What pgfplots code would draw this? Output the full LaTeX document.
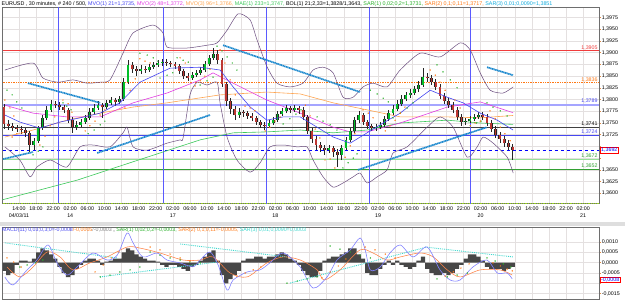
\documentclass[border=0pt]{standalone}
\usepackage{pgfplots}
\pgfplotsset{compat=1.18}
\usepackage{pgfplotstable}
\usepackage{fontspec}
\setmainfont{Liberation Sans}
\definecolor{framegray}{RGB}{110,110,110}
\definecolor{gridc}{RGB}{228,224,224}
\definecolor{sepblue}{RGB}{90,90,255}
\definecolor{mvoa}{RGB}{70,70,240}
\definecolor{mvob}{RGB}{225,60,225}
\definecolor{mvoc}{RGB}{255,165,80}
\definecolor{maec}{RGB}{60,200,90}
\definecolor{bolc}{RGB}{105,75,125}
\definecolor{sara}{RGB}{40,175,40}
\definecolor{sarb}{RGB}{255,120,20}
\definecolor{sarc}{RGB}{25,135,205}
\definecolor{cyanl}{RGB}{60,215,205}
\definecolor{upc}{RGB}{0,190,40}
\definecolor{dnc}{RGB}{190,55,50}
\definecolor{redl}{RGB}{240,60,60}
\definecolor{lav}{RGB}{165,165,255}
\definecolor{lgreen}{RGB}{150,225,150}
\definecolor{dgreen}{RGB}{50,160,50}
\definecolor{tickc}{RGB}{225,140,70}
\definecolor{macdl}{RGB}{130,130,255}
\definecolor{sigl}{RGB}{255,130,70}
\newcommand{\tf}{\fontsize{5.3}{6.6}\selectfont}
\newcommand{\ttf}{\fontsize{5.38}{6.6}\selectfont}

\pgfplotstableread{
t o h l c
-13.5 1.3784 1.3791 1.3737 1.3748
-12.5 1.3748 1.3756 1.3735 1.3744
-11.5 1.3744 1.3750 1.3733 1.3739
-10.5 1.3739 1.3746 1.3731 1.3737
-9.5 1.3737 1.3744 1.3727 1.3735
-8.5 1.3735 1.3739 1.3720 1.3729
-7.5 1.3729 1.3733 1.3688 1.3703
-6.5 1.3703 1.3718 1.3692 1.3712
-5.5 1.3712 1.3744 1.3707 1.3739
-4.5 1.3739 1.3767 1.3735 1.3761
-3.5 1.3761 1.3786 1.3756 1.3778
-2.5 1.3778 1.3799 1.3773 1.3791
-1.5 1.3791 1.3797 1.3782 1.3788
-0.5 1.3788 1.3795 1.3778 1.3784
0.5 1.3784 1.3788 1.3771 1.3778
1.5 1.3778 1.3782 1.3750 1.3756
2.5 1.3756 1.3763 1.3729 1.3741
3.5 1.3741 1.3754 1.3735 1.3746
4.5 1.3746 1.3759 1.3741 1.3752
5.5 1.3752 1.3767 1.3748 1.3761
6.5 1.3761 1.3782 1.3756 1.3773
7.5 1.3773 1.3791 1.3769 1.3782
8.5 1.3782 1.3797 1.3778 1.3788
9.5 1.3788 1.3793 1.3761 1.3784
10.5 1.3784 1.3799 1.3780 1.3793
11.5 1.3793 1.3805 1.3788 1.3799
12.5 1.3799 1.3803 1.3786 1.3795
13.5 1.3795 1.3808 1.3791 1.3801
14.5 1.3801 1.3846 1.3797 1.3837
15.5 1.3837 1.3884 1.3833 1.3874
16.5 1.3874 1.3880 1.3857 1.3865
17.5 1.3865 1.3872 1.3850 1.3861
18.5 1.3861 1.3874 1.3855 1.3865
19.5 1.3865 1.3872 1.3857 1.3863
20.5 1.3863 1.3876 1.3859 1.3869
21.5 1.3869 1.3880 1.3865 1.3874
22.5 1.3874 1.3884 1.3869 1.3878
23.5 1.3878 1.3887 1.3872 1.3880
24.5 1.3880 1.3887 1.3872 1.3878
25.5 1.3878 1.3882 1.3869 1.3876
26.5 1.3876 1.3880 1.3865 1.3872
27.5 1.3872 1.3876 1.3855 1.3861
28.5 1.3861 1.3865 1.3844 1.3850
29.5 1.3850 1.3857 1.3840 1.3846
30.5 1.3846 1.3859 1.3842 1.3852
31.5 1.3852 1.3863 1.3848 1.3857
32.5 1.3857 1.3869 1.3852 1.3863
33.5 1.3863 1.3882 1.3859 1.3876
34.5 1.3876 1.3895 1.3872 1.3889
35.5 1.3889 1.3910 1.3884 1.3897
36.5 1.3897 1.3906 1.3876 1.3884
37.5 1.3884 1.3889 1.3827 1.3833
38.5 1.3833 1.3837 1.3786 1.3797
39.5 1.3797 1.3803 1.3769 1.3780
40.5 1.3780 1.3786 1.3756 1.3767
41.5 1.3767 1.3782 1.3761 1.3773
42.5 1.3773 1.3778 1.3763 1.3771
43.5 1.3771 1.3776 1.3759 1.3765
44.5 1.3765 1.3771 1.3754 1.3761
45.5 1.3761 1.3765 1.3746 1.3752
46.5 1.3752 1.3756 1.3739 1.3746
47.5 1.3746 1.3752 1.3735 1.3744
48.5 1.3744 1.3756 1.3739 1.3750
49.5 1.3750 1.3763 1.3746 1.3756
50.5 1.3756 1.3776 1.3752 1.3769
51.5 1.3769 1.3782 1.3765 1.3776
52.5 1.3776 1.3788 1.3771 1.3782
53.5 1.3782 1.3786 1.3771 1.3778
54.5 1.3778 1.3788 1.3773 1.3782
55.5 1.3782 1.3786 1.3769 1.3778
56.5 1.3778 1.3784 1.3756 1.3763
57.5 1.3763 1.3767 1.3727 1.3733
58.5 1.3733 1.3739 1.3707 1.3716
59.5 1.3716 1.3722 1.3692 1.3703
60.5 1.3703 1.3709 1.3688 1.3697
61.5 1.3697 1.3703 1.3682 1.3692
62.5 1.3692 1.3703 1.3686 1.3697
63.5 1.3697 1.3701 1.3677 1.3688
64.5 1.3688 1.3694 1.3656 1.3682
65.5 1.3682 1.3703 1.3671 1.3697
66.5 1.3697 1.3720 1.3692 1.3714
67.5 1.3714 1.3739 1.3709 1.3733
68.5 1.3733 1.3763 1.3729 1.3756
69.5 1.3756 1.3776 1.3750 1.3767
70.5 1.3767 1.3771 1.3746 1.3752
71.5 1.3752 1.3756 1.3737 1.3744
72.5 1.3744 1.3748 1.3733 1.3739
73.5 1.3739 1.3748 1.3733 1.3741
74.5 1.3741 1.3752 1.3737 1.3746
75.5 1.3746 1.3765 1.3741 1.3759
76.5 1.3759 1.3778 1.3754 1.3771
77.5 1.3771 1.3788 1.3767 1.3780
78.5 1.3780 1.3799 1.3776 1.3791
79.5 1.3791 1.3810 1.3786 1.3801
80.5 1.3801 1.3816 1.3797 1.3810
81.5 1.3810 1.3823 1.3803 1.3814
82.5 1.3814 1.3829 1.3810 1.3823
83.5 1.3823 1.3840 1.3816 1.3831
84.5 1.3831 1.3867 1.3827 1.3848
85.5 1.3848 1.3857 1.3837 1.3846
86.5 1.3846 1.3852 1.3831 1.3837
87.5 1.3837 1.3844 1.3820 1.3827
88.5 1.3827 1.3833 1.3801 1.3808
89.5 1.3808 1.3814 1.3791 1.3797
90.5 1.3797 1.3803 1.3782 1.3788
91.5 1.3788 1.3795 1.3771 1.3778
92.5 1.3778 1.3784 1.3756 1.3763
93.5 1.3763 1.3769 1.3744 1.3752
94.5 1.3752 1.3761 1.3746 1.3754
95.5 1.3754 1.3765 1.3750 1.3759
96.5 1.3759 1.3769 1.3754 1.3763
97.5 1.3763 1.3773 1.3759 1.3767
98.5 1.3767 1.3773 1.3756 1.3763
99.5 1.3763 1.3769 1.3744 1.3750
100.5 1.3750 1.3756 1.3731 1.3737
101.5 1.3737 1.3744 1.3718 1.3724
102.5 1.3724 1.3731 1.3707 1.3716
103.5 1.3716 1.3722 1.3699 1.3707
104.5 1.3707 1.3714 1.3692 1.3699
105.5 1.3699 1.3705 1.3671 1.3692
}\candles

\pgfplotstableread{
t v
-13.5 -0.0004
-12.5 -0.0006
-11.5 -0.0005
-10.5 -0.0001
-9.5 0.0001
-8.5 0.0001
-7.5 0.00005
-6.5 0.0002
-5.5 0.0005
-4.5 0.0007
-3.5 0.0006
-2.5 0.0004
-1.5 0.0002
-0.5 -0.0002
0.5 -0.0005
1.5 -0.0007
2.5 -0.0006
3.5 -0.0003
4.5 -0.0001
5.5 0.0001
6.5 0.0002
7.5 0.0002
8.5 0.0001
9.5 -0.0001
10.5 0.00005
11.5 0.0001
12.5 0.0002
13.5 0.0002
14.5 0.0005
15.5 0.0007
16.5 0.0006
17.5 0.0004
18.5 0.0003
19.5 0.0002
20.5 0.0001
21.5 0.0001
22.5 0.00005
23.5 -0.0001
24.5 -0.0002
25.5 -0.0001
26.5 -0.0001
27.5 -0.0002
28.5 -0.0003
29.5 -0.0004
30.5 -0.0002
31.5 -0.0001
32.5 0.0001
33.5 0.0003
34.5 0.0005
35.5 0.0006
36.5 0.0001
37.5 -0.0006
38.5 -0.0010
39.5 -0.0008
40.5 -0.0006
41.5 -0.0004
42.5 0.0001
43.5 0.0002
44.5 0.0002
45.5 0.0003
46.5 0.0003
47.5 0.0002
48.5 0.0003
49.5 0.0003
50.5 0.0004
51.5 0.0005
52.5 0.0004
53.5 0.0002
54.5 0.0001
55.5 -0.0001
56.5 -0.0004
57.5 -0.0006
58.5 -0.0007
59.5 -0.0007
60.5 -0.0004
61.5 0.0001
62.5 0.0002
63.5 0.0003
64.5 0.0003
65.5 0.0004
66.5 0.0005
67.5 0.0007
68.5 0.0007
69.5 0.0004
70.5 0.0002
71.5 -0.0005
72.5 -0.0006
73.5 -0.0006
74.5 -0.0003
75.5 -0.0001
76.5 0.0001
77.5 -0.0001
78.5 0.0001
79.5 -0.0001
80.5 -0.0002
81.5 -0.0003
82.5 -0.0002
83.5 0.0001
84.5 0.0003
85.5 -0.0003
86.5 -0.0005
87.5 -0.0006
88.5 -0.0006
89.5 -0.0005
90.5 -0.0006
91.5 -0.0005
92.5 -0.0003
93.5 -0.0001
94.5 0.0002
95.5 0.0004
96.5 0.0004
97.5 0.0003
98.5 0.0001
99.5 -0.0002
100.5 -0.0003
101.5 -0.0003
102.5 -0.0003
103.5 -0.0004
104.5 -0.0003
105.5 -0.0002
}\hist

\begin{document}
\begin{tikzpicture}
\useasboundingbox (0,0) rectangle (625pt,303pt);
\fill[black!13] (0,77pt) rectangle (625pt,81pt);

% ================= MAIN PANEL =================
\begin{axis}[
  at={(2.5pt,99.7pt)}, anchor=south west, scale only axis,
  width=596.5pt, height=196pt,
  xmin=-13.85, xmax=125.7, ymin=1.35786, ymax=1.39969,
  scaled ticks=false,
  axis line style={draw=framegray, line width=0.6pt},
  clip mode=individual,
  grid=major, major grid style={draw=gridc, line width=0.45pt},
  xtick={-10,-6,...,122},
  xticklabels={{14:00\\04/03/11},18:00,22:00,{02:00\\14},06:00,10:00,14:00,18:00,22:00,{02:00\\17},06:00,10:00,14:00,18:00,22:00,{02:00\\18},06:00,10:00,14:00,18:00,22:00,{02:00\\19},06:00,10:00,14:00,18:00,22:00,{02:00\\20},06:00,10:00,14:00,18:00,22:00,{02:00\\21}},
  xtick pos=bottom, xtick style={draw=none},
  xticklabel style={align=center, font=\tf, inner sep=1pt, yshift=-0.5pt},
  ytick={1.3600,1.3625,1.3650,1.3675,1.3700,1.3725,1.3750,1.3775,1.3800,1.3825,1.3850,1.3875,1.3900,1.3925,1.3950,1.3975},
  yticklabels={{1,3600},{1,3625},{1,3650},{},{},{1,3725},{1,3750},{1,3775},{1,3800},{1,3825},{1,3850},{1,3875},{1,3900},{1,3925},{1,3950},{1,3975}},
  ytick pos=right, yticklabel pos=right,
  tick align=outside, major tick length=2pt,
  ytick style={draw=tickc, line width=0.5pt},
  yticklabel style={font=\tf, inner sep=0.6pt, anchor=west},
]
% horizontal levels
\addplot[redl, line width=0.6pt, forget plot] coordinates {(-13.85,1.3905) (125.7,1.3905)};
\addplot[sarb, line width=0.7pt, densely dotted, forget plot] coordinates {(-13.85,1.3836) (125.7,1.3836)};
\addplot[lav, line width=1.6pt, forget plot] coordinates {(-13.85,1.3789) (125.7,1.3789)};
\addplot[black!75, line width=0.6pt, forget plot] coordinates {(-13.85,1.3741) (125.7,1.3741)};
\addplot[mvoa, line width=0.6pt, forget plot] coordinates {(-13.85,1.3724) (125.7,1.3724)};
\addplot[blue, line width=0.6pt, dashed, forget plot] coordinates {(-13.85,1.3692) (125.7,1.3692)};
\addplot[lgreen, line width=1.6pt, forget plot] coordinates {(-13.85,1.3672) (125.7,1.3672)};
\addplot[dgreen, line width=0.6pt, forget plot] coordinates {(-13.85,1.3652) (125.7,1.3652)};
% day separators
\addplot[sepblue, line width=0.8pt, forget plot] coordinates {(-0.8,1.3578) (-0.8,1.3997)};
\addplot[sepblue, line width=0.8pt, forget plot] coordinates {(23.9,1.3578) (23.9,1.3997)};
\addplot[sepblue, line width=0.8pt, forget plot] coordinates {(47.8,1.3578) (47.8,1.3997)};
\addplot[sepblue, line width=0.8pt, forget plot] coordinates {(72.1,1.3578) (72.1,1.3997)};
\addplot[sepblue, line width=0.8pt, forget plot] coordinates {(95.5,1.3578) (95.5,1.3997)};

% Moving averages
\addplot[maec, line width=0.6pt, forget plot] coordinates {(-13.9,1.3586) (3.6,1.3628) (18.3,1.3672) (32.4,1.3714) (40.1,1.3729) (48.0,1.3731) (55.8,1.3735) (63.5,1.3729) (71.45,1.3735) (79.2,1.3750) (90.2,1.3756) (97.9,1.3750) (105.6,1.3747)};
\addplot[mvoc, line width=0.6pt, forget plot] coordinates {(-13.3,1.3720) (-6.7,1.3735) (1.2,1.3756) (9.0,1.3771) (16.7,1.3784) (24.65,1.3793) (37.05,1.3810) (48.0,1.3816) (55.8,1.3812) (63.5,1.3793) (71.45,1.3778) (79.2,1.3763) (90.2,1.3763) (97.9,1.3761) (105.6,1.3766)};
\addplot[mvob, line width=0.6pt, forget plot] coordinates {(-13.3,1.3788) (-6.7,1.3771) (1.2,1.3763) (9.0,1.3763) (16.7,1.3793) (24.65,1.3814) (32.4,1.3842) (35.4,1.3857) (40.1,1.3835) (48.0,1.3799) (55.8,1.3771) (63.5,1.3741) (67.5,1.3731) (71.45,1.3731) (79.2,1.3750) (90.2,1.3784) (97.9,1.3795) (105.6,1.3772)};

% candles: wicks
\addplot[draw=none, mark=none, forget plot,
  error bars/.cd, y dir=plus, y explicit, error mark=none,
  error bar style={draw=black!85, line width=0.5pt}]
  table[x=t, y=l, y error expr={\thisrow{h}-\thisrow{l}}] {\candles};
% up bodies
\addplot[draw=none, mark=none, forget plot, unbounded coords=discard, filter discard warning=false,
  y filter/.expression={\thisrow{c}>\thisrow{o} ? y : nan},
  error bars/.cd, y dir=plus, y explicit, error mark=none,
  error bar style={draw=black!85, line width=2.9pt}]
  table[x=t, y=o, y error expr={\thisrow{c}-\thisrow{o}}] {\candles};
\addplot[draw=none, mark=none, forget plot, unbounded coords=discard, filter discard warning=false,
  y filter/.expression={\thisrow{c}>\thisrow{o} ? y : nan},
  error bars/.cd, y dir=plus, y explicit, error mark=none,
  error bar style={draw=upc, line width=1.7pt}]
  table[x=t, y=o, y error expr={\thisrow{c}-\thisrow{o}}] {\candles};
% down bodies
\addplot[draw=none, mark=none, forget plot, unbounded coords=discard, filter discard warning=false,
  y filter/.expression={\thisrow{c}<\thisrow{o} ? y : nan},
  error bars/.cd, y dir=plus, y explicit, error mark=none,
  error bar style={draw=black!85, line width=2.9pt}]
  table[x=t, y=c, y error expr={\thisrow{o}-\thisrow{c}}] {\candles};
\addplot[draw=none, mark=none, forget plot, unbounded coords=discard, filter discard warning=false,
  y filter/.expression={\thisrow{c}<\thisrow{o} ? y : nan},
  error bars/.cd, y dir=plus, y explicit, error mark=none,
  error bar style={draw=dnc, line width=1.7pt}]
  table[x=t, y=c, y error expr={\thisrow{o}-\thisrow{c}}] {\candles};

% MA21 blue
\addplot[mvoa, line width=0.6pt, forget plot] coordinates {(-13.3,1.3767) (-9.8,1.3752) (-5.1,1.3739) (-0.4,1.3752) (4.3,1.3761) (9.0,1.3771) (13.6,1.3793) (18.3,1.3837) (25.35,1.3867) (32.4,1.3869) (37.05,1.3863) (40.1,1.3827) (44.1,1.3784) (48.0,1.3756) (51.8,1.3763) (55.8,1.3763) (59.75,1.3741) (63.5,1.3720) (67.5,1.3707) (71.45,1.3729) (75.2,1.3750) (79.2,1.3771) (82.2,1.3793) (86.2,1.3820) (90.2,1.3805) (93.9,1.3793) (97.9,1.3771) (101.9,1.3756) (105.6,1.3735)};

% Bollinger bands
\addplot[bolc, line width=0.5pt, smooth, tension=0.4, forget plot] coordinates {(-13.3,1.3863) (-6.7,1.3878) (-4.4,1.3846) (-0.87,1.3837) (2.64,1.3842) (5.92,1.3835) (8.96,1.3837) (11.3,1.3842) (14.35,1.3899) (16.69,1.3942) (21.37,1.3959) (23.71,1.3942) (24.65,1.3912) (29.33,1.3910) (34.0,1.3916) (36.35,1.3921) (38.69,1.3948) (41.27,1.3983) (44.07,1.3970) (45.71,1.3927) (48.04,1.3870) (50.38,1.3835) (53.43,1.3827) (56.47,1.3835) (58.81,1.3863) (61.15,1.3869) (63.49,1.3857) (65.83,1.3805) (68.17,1.3805) (70.51,1.3827) (72.85,1.3835) (76.13,1.3827) (79.17,1.3863) (83.85,1.3899) (88.54,1.3891) (93.22,1.3921) (95.56,1.3906) (97.9,1.3857) (100.24,1.3820) (103.28,1.3814) (105.63,1.3827)};
\addplot[bolc, line width=0.5pt, smooth, tension=0.4, forget plot] coordinates {(-13.3,1.3699) (-9.8,1.3671) (-7.4,1.3635) (-5.8,1.3656) (-2.7,1.3671) (1.2,1.3656) (4.3,1.3699) (7.3,1.3703) (11.3,1.3699) (14.35,1.3729) (15.3,1.3741) (16.7,1.3699) (20.0,1.3692) (24.65,1.3707) (27.7,1.3714) (28.4,1.3718) (30.0,1.3810) (31.7,1.3837) (34.0,1.3831) (36.35,1.3837) (37.05,1.3793) (38.69,1.3720) (41.0,1.3671) (44.07,1.3645) (46.41,1.3665) (48.74,1.3699) (51.79,1.3703) (55.07,1.3699) (57.4,1.3699) (58.81,1.3671) (61.15,1.3635) (63.49,1.3613) (65.83,1.3622) (68.17,1.3635) (69.81,1.3643) (71.45,1.3622) (73.79,1.3635) (76.13,1.3650) (77.53,1.3686) (80.81,1.3699) (85.49,1.3741) (88.54,1.3763) (91.58,1.3741) (94.86,1.3677) (97.2,1.3699) (98.6,1.3720) (100.94,1.3707) (104.22,1.3677) (105.63,1.3643)};

% SAR(1) green dots
\addplot[only marks, mark=*, mark size=0.45pt, sara, forget plot] coordinates {
(-12.8,1.3820) (-11.6,1.3810) (-10.5,1.3795) (-9.3,1.3782)
(-6.7,1.3682) (-5.5,1.3690) (-4.4,1.3699)
(0.3,1.3793) (1.2,1.3786) (2.2,1.3778)
(6.2,1.3727) (7.6,1.3735) (9.0,1.3746) (10.1,1.3754)
(18.3,1.3899) (20.0,1.3895) (21.4,1.3889) (22.5,1.3882)
(23.0,1.3846) (24.65,1.3852) (26.0,1.3857)
(27.0,1.3889) (28.4,1.3884) (29.6,1.3880)
(32.4,1.3831) (34.0,1.3840) (35.4,1.3848)
(36.35,1.3914) (37.5,1.3904) (38.7,1.3891) (39.9,1.3878) (41.0,1.3863)
(51.8,1.3748) (53.4,1.3759) (54.8,1.3769) (56.0,1.3778)
(59.75,1.3763) (61.15,1.3754) (62.8,1.3746) (64.4,1.3735)
(65.8,1.3654) (67.0,1.3665) (68.2,1.3675) (69.1,1.3684)
(72.2,1.3820) (73.8,1.3812) (75.2,1.3803) (76.4,1.3795)
(77.5,1.3761) (79.2,1.3771) (80.8,1.3782) (82.2,1.3793)
(87.8,1.3874) (89.2,1.3859) (90.9,1.3842) (92.5,1.3825)
(95.6,1.3744) (97.0,1.3750) (98.1,1.3754)
(99.5,1.3793) (100.9,1.3784) (102.6,1.3776) (104.2,1.3765)};
% SAR(2) orange dots
\addplot[only marks, mark=*, mark size=0.45pt, sarb, forget plot] coordinates {
(-13.3,1.3799) (-12.1,1.3782) (-11.2,1.3765)
(-11.6,1.3720) (-10.5,1.3727) (-9.3,1.3729)
(-5.1,1.3703) (-3.9,1.3722) (-2.7,1.3744) (-1.6,1.3763)
(0.3,1.3799) (1.5,1.3791) (2.4,1.3773)
(5.5,1.3733) (6.6,1.3744) (7.8,1.3754) (9.0,1.3767) (10.1,1.3778)
(14.8,1.3782) (16.0,1.3820) (17.2,1.3844)
(18.3,1.3887) (19.5,1.3882) (20.7,1.3878)
(27.7,1.3889) (28.9,1.3878)
(31.2,1.3829) (32.4,1.3840) (33.5,1.3850) (34.7,1.3865)
(37.05,1.3906) (38.2,1.3878) (39.4,1.3842) (40.6,1.3810)
(42.9,1.3786) (44.1,1.3782) (45.2,1.3776)
(47.6,1.3733) (48.7,1.3741) (49.9,1.3754) (51.1,1.3763)
(57.0,1.3788) (58.1,1.3765) (59.3,1.3737) (60.4,1.3718)
(61.6,1.3671) (62.8,1.3673) (63.9,1.3654)
(66.3,1.3677) (67.5,1.3701) (68.6,1.3727)
(70.5,1.3778) (71.7,1.3771) (72.85,1.3761)
(75.7,1.3733) (76.8,1.3744) (78.0,1.3756) (79.2,1.3771) (80.3,1.3784)
(86.2,1.3863) (87.4,1.3852) (88.5,1.3837) (89.7,1.3820)
(92.0,1.3799) (93.2,1.3782)
(95.6,1.3744) (96.7,1.3750) (97.9,1.3754)
(100.2,1.3776) (101.4,1.3759) (102.6,1.3741) (103.7,1.3727) (104.9,1.3712)};
% SAR(3) thick dotted blue
\addplot[sarc, line width=1.7pt, dash pattern=on 1.2pt off 0.5pt, forget plot] coordinates {(-13.7,1.3673) (-6.7,1.3688)};
\addplot[sarc, line width=1.7pt, dash pattern=on 1.2pt off 0.5pt, forget plot] coordinates {(-7.9,1.3835) (9.0,1.3793)};
\addplot[sarc, line width=1.7pt, dash pattern=on 1.2pt off 0.5pt, forget plot] coordinates {(8.3,1.3686) (34.7,1.3767)};
\addplot[sarc, line width=1.7pt, dash pattern=on 1.2pt off 0.5pt, forget plot] coordinates {(37.75,1.3916) (69.8,1.3816)};
\addplot[sarc, line width=1.7pt, dash pattern=on 1.2pt off 0.5pt, forget plot] coordinates {(69.3,1.3650) (99.5,1.3741)};
\addplot[sarc, line width=1.7pt, dash pattern=on 1.2pt off 0.5pt, forget plot] coordinates {(99.5,1.3869) (105.6,1.3852)};

% level labels
\node[anchor=south east, inner sep=0.4pt, text=redl, font=\tf] at (axis cs:125.5,1.3905) {1,3905};
\node[anchor=south east, inner sep=0.4pt, text=sarb, font=\tf] at (axis cs:125.5,1.3836) {1,3836};
\node[anchor=south east, inner sep=0.4pt, text=mvoa, font=\tf] at (axis cs:125.5,1.3790) {1,3789};
\node[anchor=south east, inner sep=0.4pt, text=black, font=\tf] at (axis cs:125.5,1.3741) {1,3741};
\node[anchor=south east, inner sep=0.4pt, text=mvoa, font=\tf] at (axis cs:125.5,1.3724) {1,3724};
\node[anchor=south east, inner sep=0.4pt, text=dgreen, font=\tf] at (axis cs:125.5,1.3673) {1,3672};
\node[anchor=south east, inner sep=0.4pt, text=dgreen, font=\tf] at (axis cs:125.5,1.3652) {1,3652};
\node[anchor=west, draw=red, fill=white, text=blue, font=\tf, inner sep=0.7pt, line width=0.5pt] at (axis cs:126.0,1.3692) {1,3692};
\end{axis}
\draw[yellow!60!green, densely dotted, line width=0.8pt] (2.5pt,99.4pt) -- (599pt,99.4pt);

% title
\node[anchor=base west, inner sep=0pt, font=\ttf] at (1.5pt,297.2pt) {EURUSD , 30 minutes, \# 240 / 500, \textcolor{mvoa}{MVO(1) 21=1,3735,} \textcolor{mvob}{MVO(2) 48=1,3772,} \textcolor{mvoc}{MVO(3) 96=1,3766,} \textcolor{maec}{MAE(1) 233=1,3747,} BOL(1) 21;2,33=1,3828/1,3643, \textcolor{sara}{SAR(1) 0,02;0,2=1,3731,} \textcolor{sarb}{SAR(2) 0,1;0,11=1,3717,} \textcolor{sarc!70!cyan}{SAR(3) 0,01;0,0090=1,3851}};

% ================= LOWER PANEL =================
\begin{axis}[
  at={(2.5pt,3.7pt)}, anchor=south west, scale only axis,
  width=596.5pt, height=72.3pt,
  xmin=-13.85, xmax=125.7, ymin=-0.001777, ymax=0.001733,
  scaled ticks=false,
  axis line style={draw=framegray, line width=0.6pt},
  clip mode=individual,
  grid=major, major grid style={draw=gridc, line width=0.45pt},
  xtick={-10,-6,...,122}, xticklabels={}, xtick style={draw=none},
  ytick={-0.0015,-0.001,-0.0005,0,0.0005,0.001},
  yticklabels={{-0,0015},{},{-0,0005},{0,0000},{0,0005},{0,0010}},
  ytick pos=right, yticklabel pos=right,
  tick align=outside, major tick length=2pt,
  ytick style={draw=tickc, line width=0.5pt},
  yticklabel style={font=\tf, inner sep=0.6pt, anchor=west},
]
\addplot[ybar, bar width=1, fill=black!72, draw=none, forget plot] table[x=t, y=v] {\hist};
% cyan SAR(3)
\addplot[cyanl, line width=0.9pt, densely dotted, forget plot] coordinates {(-13.3,0.00096) (13.0,0.00023)};
\addplot[cyanl, line width=0.9pt, densely dotted, forget plot] coordinates {(9.0,-0.00069) (36.35,0.00003)};
\addplot[cyanl, line width=0.9pt, densely dotted, forget plot] coordinates {(27.7,0.00091) (52.7,0.00028)};
\addplot[cyanl, line width=0.9pt, densely dotted, forget plot] coordinates {(53.4,-0.00099) (84.5,0.00071)};
\addplot[cyanl, line width=0.9pt, densely dotted, forget plot] coordinates {(85.0,0.00076) (105.6,0.00028)};
% signal
\addplot[sigl, line width=0.55pt, smooth, forget plot] coordinates {(-12.8,-0.00021) (-9.8,-0.00069) (-6.7,-0.00021) (-3.4,0.00052) (-0.4,0.00028) (2.6,-0.00035) (6.6,-0.00001) (10.6,0.00028) (15.3,0.00076) (18.3,0.00071) (23.0,0.00047) (28.4,0.00013) (32.4,0.00013) (35.4,0.00028) (39.4,-0.0005) (43.4,-0.00069) (48.0,-0.00001) (51.8,0.00028) (55.8,0.00013) (59.75,-0.00035) (61.4,-0.00084) (65.1,-0.00035) (69.8,0.00062) (72.85,0.00047) (76.1,0.00013) (79.2,0.00028) (83.85,0.00047) (86.9,0.00028) (90.2,-0.00035) (93.2,-0.00069) (97.9,-0.00035) (102.6,-0.00035) (105.4,-0.0006)};
% MACD line
\addplot[macdl, line width=0.6pt, smooth, forget plot] coordinates {(-13.3,-0.00069) (-11.4,-0.00108) (-8.1,-0.00035) (-5.8,0.00013) (-3.2,0.00086) (-1.1,-0.00001) (1.2,-0.0006) (3.6,-0.00021) (7.3,0.00047) (10.6,0.00013) (13.0,0.00037) (15.3,0.00144) (16.7,0.00096) (19.0,0.00028) (22.3,0.00047) (24.65,0.00013) (27.7,-0.00001) (30.7,-0.0002) (32.4,0.00013) (34.7,0.00052) (36.6,-0.00011) (38.7,-0.00133) (40.1,-0.00084) (43.4,-0.00045) (46.4,-0.00035) (48.7,-0.00001) (51.8,0.00047) (55.8,-0.00021) (58.8,-0.00123) (62.1,-0.00069) (64.4,0.00013) (67.5,0.00062) (69.8,0.0012) (71.0,0.00062) (72.2,-0.00035) (74.5,-0.00021) (76.8,0.00047) (79.2,0.00086) (82.2,0.00028) (85.5,0.00076) (88.5,-0.00035) (90.9,-0.00084) (93.2,-0.00084) (96.2,-0.00021) (99.5,0.00013) (101.9,-0.0005) (104.2,-0.0005) (105.4,-0.00079)};
% SAR(1) green dots
\addplot[only marks, mark=*, mark size=0.45pt, sara, forget plot] coordinates {
(-9.8,-0.00021) (-8.1,-0.00011) (-6.2,-0.00001) (-4.4,0.00013)
(9.0,-0.00069) (11.3,-0.0006) (13.6,-0.00045) (16.0,-0.00035) (18.3,-0.00021)
(20.7,0.00052) (23.0,0.00037) (25.35,0.00023) (27.7,0.00013) (30.0,0.00003) (32.4,-0.00001)
(52.7,-0.00099) (55.1,-0.00089) (57.4,-0.00079) (59.75,-0.00069)
(62.8,0.00081) (65.1,0.00066) (67.5,0.00052) (69.8,0.00037) (72.2,0.00023)
(87.8,-0.00079) (90.2,-0.00069) (92.5,-0.0006) (94.9,-0.0005)
(99.5,0.00023) (101.4,0.00008) (103.3,-0.00006) (105.1,-0.00021)};
% SAR(2) orange dots
\addplot[only marks, mark=*, mark size=0.45pt, sarb, forget plot] coordinates {
(-12.8,0.00023) (-11.2,0.00003) (-9.5,-0.00021)
(7.8,-0.00045) (9.7,-0.00011) (11.6,0.00023) (13.4,0.00052)
(20.7,0.00076) (23.0,0.00062) (25.35,0.00042) (27.7,0.00023) (30.0,0.00008)
(41.0,-0.00065) (42.9,-0.0005) (44.8,-0.00035) (46.6,-0.00021)
(60.9,-0.00074) (62.8,-0.00045) (64.7,-0.00016) (66.5,0.00018)
(71.0,0.00076) (73.3,0.00062) (75.7,0.00042) (78.0,0.00023)
(89.7,-0.00065) (91.6,-0.00045) (93.4,-0.00026) (95.3,-0.00006)
(100.9,-0.00001) (102.6,-0.00016) (104.2,-0.00031) (105.4,-0.0004)};
\node[anchor=west, draw=red, fill=white, text=blue, font=\tf, inner sep=0.7pt, line width=0.5pt] at (axis cs:126.0,-0.00083) {-0,0008};
\end{axis}
\node[anchor=base west, inner sep=0pt, font=\tf] at (2pt,71pt) {\textcolor{mvoa}{MACD(11) 0,03;0,3;0=-0,0008}\textcolor{sarb}{/-0,0005}\textcolor{gray}{/-0,0003} , \textcolor{sara}{SAR(1) 0,02;0,2=-0,0003,} \textcolor{sarb}{SAR(2) 0,1;0,11=-0,0005,} \textcolor{cyanl}{SAR(3) 0,01;0,0090=0,0003}};
\end{tikzpicture}
\end{document}
